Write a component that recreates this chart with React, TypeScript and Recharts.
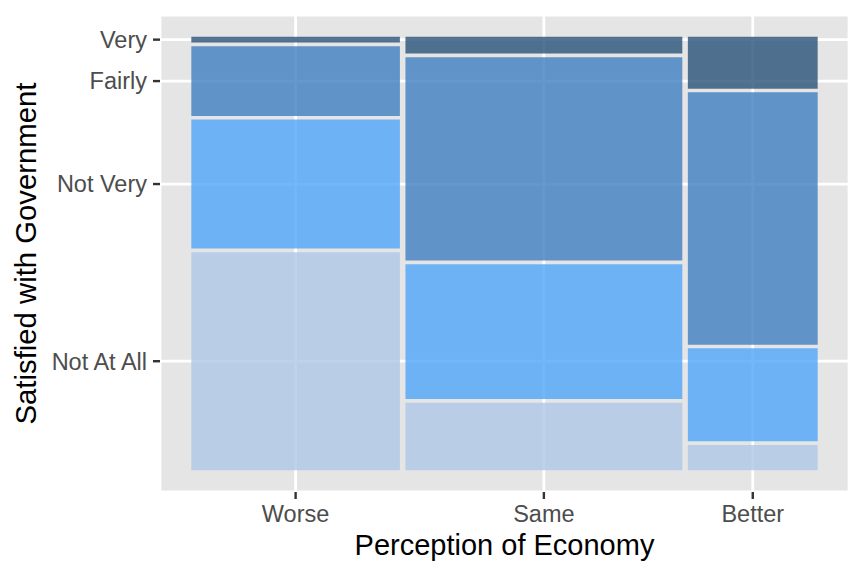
import { CartesianGrid, ComposedChart, Label, ReferenceArea, XAxis, YAxis } from 'recharts'

// perception of economy (columns) and their share of respondents
const economyLevels = ['Worse', 'Same', 'Better']
const economyShare = [0.339, 0.45, 0.211]

// satisfaction levels, bottom to top, with the share inside each column
const satisfactionLevels = ['Not At All', 'Not Very', 'Fairly', 'Very']
const worseShares = [0.516, 0.305, 0.165, 0.014]
const sameShares = [0.16, 0.319, 0.481, 0.04]
const betterShares = [0.06, 0.22, 0.597, 0.123]

const fillColors = ['#AFC7E7', '#50A5FA', '#3E7EBF', '#295178']

const GAP_X = 0.009
const GAP_Y = 0.0085
const FONT = '"Liberation Sans", Arial, Helvetica, sans-serif'

type Cell = { key: string; x1: number; x2: number; y1: number; y2: number; level: number }

function buildCells() {
  const columns = [worseShares, sameShares, betterShares]
  const cells: Cell[] = []
  let xStart = 0
  columns.forEach((shares, j) => {
    const x1 = xStart
    const x2 = x1 + economyShare[j]
    let yStart = 0
    shares.forEach((s, i) => {
      cells.push({ key: `${economyLevels[j]}-${satisfactionLevels[i]}`, x1, x2, y1: yStart, y2: yStart + s, level: i })
      yStart += s + GAP_Y
    })
    xStart = x2 + GAP_X
  })
  return cells
}

const cells = buildCells()

const xTotal = 1 + GAP_X * (economyLevels.length - 1)
const yTotal = 1 + GAP_Y * (satisfactionLevels.length - 1)
const xDomain: [number, number] = [-0.05 * xTotal, xTotal * 1.05]
const yDomain: [number, number] = [-0.05 * yTotal, yTotal * 1.05]

// tick positions: column centres and centres of the first column's cells
const xTicks = economyLevels.map((_, j) => {
  const c = cells.find((d) => d.key.startsWith(economyLevels[j] + '-'))!
  return (c.x1 + c.x2) / 2
})
const yTicks = satisfactionLevels.map((_, i) => {
  const c = cells[i]
  return (c.y1 + c.y2) / 2
})

const tickStyle = { fill: '#4D4D4D', fontSize: 23.5, fontFamily: FONT }

export default function App() {
  return (
    <div style={{ position: 'absolute', left: 0, top: 0, width: 864, height: 576, background: '#fff' }}>
      <ComposedChart width={864} height={576} data={cells} margin={{ top: 15, right: 15, left: 0, bottom: 0 }}>
        <CartesianGrid fill="#E5E5E5" fillOpacity={1} stroke="#FFFFFF" strokeWidth={2.8} />
        <XAxis
          type="number"
          dataKey="x1"
          domain={xDomain}
          allowDataOverflow
          ticks={xTicks}
          interval={0}
          tickFormatter={(v: number) => economyLevels[xTicks.indexOf(v)] ?? ''}
          height={84}
          axisLine={false}
          tickSize={7}
          tickMargin={6}
          tickLine={{ stroke: '#333333', strokeWidth: 2.4 }}
          tick={tickStyle}
        >
          <Label
            content={({ viewBox }: any) => (
              <text
                x={viewBox.x + viewBox.width / 2}
                y={viewBox.y + 63}
                textAnchor="middle"
                fontSize={29}
                fontFamily={FONT}
                fill="#000"
              >
                Perception of Economy
              </text>
            )}
          />
        </XAxis>
        <YAxis
          type="number"
          dataKey="y1"
          domain={yDomain}
          allowDataOverflow
          ticks={yTicks}
          interval={0}
          tickFormatter={(v: number) => satisfactionLevels[yTicks.indexOf(v)] ?? ''}
          width={160}
          axisLine={false}
          tickSize={7}
          tickMargin={6}
          tickLine={{ stroke: '#333333', strokeWidth: 2.4 }}
          tick={tickStyle}
        >
          <Label
            content={({ viewBox }: any) => {
              const cx = 25
              const cy = viewBox.y + viewBox.height / 2
              return (
                <text
                  x={cx}
                  y={cy}
                  transform={`rotate(-90 ${cx} ${cy})`}
                  textAnchor="middle"
                  dominantBaseline="central"
                  fontSize={29.3}
                  fontFamily={FONT}
                  fill="#000"
                >
                  Satisfied with Government
                </text>
              )
            }}
          />
        </YAxis>
        {cells.map((c) => (
          <ReferenceArea
            key={c.key}
            x1={c.x1}
            x2={c.x2}
            y1={c.y1}
            y2={c.y2}
            fill={fillColors[c.level]}
            fillOpacity={0.8}
            stroke="none"
            ifOverflow="visible"
          />
        ))}
      </ComposedChart>
    </div>
  )
}
